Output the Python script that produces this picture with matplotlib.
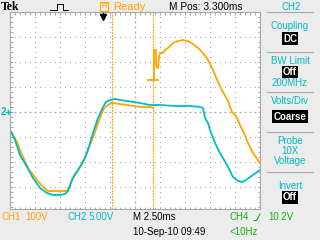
import matplotlib
matplotlib.use('Agg')
import matplotlib.pyplot as plt
from matplotlib.ticker import MultipleLocator, NullLocator
import numpy as np

plt.rcParams['font.family'] = ['Liberation Sans', 'DejaVu Sans']

# time in ms from left edge of screen (2.5 ms/div), amplitude in divisions from CH2 ground
ch2_t = [0.0, 0.5, 1.0, 1.7, 2.3, 3.0, 3.7, 4.3, 5.0, 5.5, 5.8, 6.2, 6.6, 7.0, 7.4, 7.7,
         8.0, 8.3, 8.6, 8.8, 9.0, 9.3, 9.6, 10.0, 10.5, 11.0, 11.7, 13.0, 14.0, 15.0, 16.5,
         18.0, 19.0, 19.3, 19.5, 19.8, 20.0, 20.5, 21.0, 21.7, 22.3, 22.8, 23.2, 23.6, 24.3, 25.0]
ch2_d = [-0.72, -1.12, -1.72, -2.20, -2.64, -3.04, -3.24, -3.32, -3.32, -3.28, -3.16, -2.72,
         -2.44, -2.20, -1.92, -1.64, -1.24, -0.84, -0.48, -0.24, -0.08, 0.20, 0.40, 0.48, 0.52,
         0.48, 0.44, 0.36, 0.28, 0.28, 0.24, 0.24, 0.20, 0.16, -0.24, -0.44, -0.72, -1.24,
         -1.64, -2.12, -2.60, -2.76, -2.80, -2.72, -2.52, -2.32]

ch1_t = [0.0, 0.7, 1.2, 1.8, 2.7, 3.3, 3.8, 4.7, 5.7, 6.0, 6.3, 6.8, 7.3, 7.8, 8.2, 8.5,
         9.0, 9.3, 9.5, 9.8, 10.2, 11.0, 11.7, 13.0, 14.0, 14.3]
ch1_d = [-0.72, -1.20, -1.72, -2.24, -2.72, -3.00, -3.16, -3.16, -3.16, -2.92, -2.60, -2.32,
         -2.00, -1.52, -1.12, -0.80, -0.24, 0.08, 0.20, 0.28, 0.36, 0.32, 0.28, 0.20, 0.20, 0.16]

ch1b_t = [14.4, 14.4, 14.6, 14.6, 14.7, 14.8, 14.9, 15.0, 15.3, 15.5, 15.8, 16.3, 16.8, 17.3,
          17.8, 18.3, 18.8, 19.3, 19.8, 20.3, 20.8, 21.3, 21.8, 22.2, 22.6, 23.0, 23.4, 23.8,
          24.3, 24.8, 25.0]
ch1b_d = [1.28, 2.48, 2.48, 1.92, 1.76, 1.76, 2.20, 2.36, 2.36, 2.48, 2.56, 2.76, 2.84, 2.88,
          2.84, 2.72, 2.56, 2.36, 2.08, 1.68, 1.20, 0.80, 0.44, 0.00, -0.16, -0.52, -0.84,
          -1.24, -1.64, -1.92, -2.04]

glitch_t = [13.8, 14.8]
glitch_d = [1.28, 1.28]
cursor_t = [10.2, 14.3]

ORANGE = '#ffa400'
CYAN = '#00bcc4'
GREEN = '#10b010'
GRID = '#a8a8a8'
BG = '#ececec'

fig = plt.figure(figsize=(3.2, 2.4), dpi=100, facecolor=BG)

# graticule: x 10..260 px, y 12..209 px
ax = fig.add_axes([10 / 320, 31 / 240, 250 / 320, 197 / 240], zorder=1)
ax.set_facecolor('white')
ax.set_xlim(0, 25)
ax.set_ylim(-3.88, 4)
for s in ax.spines.values():
    s.set_color(GRID)
    s.set_linewidth(0.8)
ax.xaxis.set_major_locator(NullLocator())
ax.yaxis.set_major_locator(NullLocator())
ax.xaxis.set_minor_locator(MultipleLocator(0.5))
ax.yaxis.set_minor_locator(MultipleLocator(0.2))
ax.tick_params(which='minor', direction='in', length=1.8, width=0.75, color=GRID,
               top=True, right=True, labelbottom=False, labelleft=False)

# dotted grid
xs = np.arange(0, 25.01, 0.5)
ys = np.arange(-3.8, 4.01, 0.2)
for d in [-3, -2, -1, 1, 2, 3]:
    ax.plot(xs, np.full_like(xs, d), 's', color=GRID, ms=0.75, mew=0)
for t in [2.5, 5, 7.5, 10, 15, 17.5, 20, 22.5]:
    ax.plot(np.full_like(ys, t), ys, 's', color=GRID, ms=0.75, mew=0)
ax.plot(xs, np.zeros_like(xs), '_', color=GRID, ms=1.6, mew=0.9)
ax.plot(np.full_like(ys, 12.5), ys, '|', color=GRID, ms=1.6, mew=0.9)

for t in cursor_t:
    ax.axvline(t, color=ORANGE, lw=0.9, ls=(0, (1.5, 0.8)))

ax.plot(ch1_t, ch1_d, color=ORANGE, lw=1.3)
ax.plot(ch1b_t, ch1b_d, color=ORANGE, lw=1.3)
ax.plot(glitch_t, glitch_d, color=ORANGE, lw=1.3)
ax.plot(ch2_t, ch2_d, color=CYAN, lw=1.3)

# overlay in pixel coordinates for the screen annotations
ov = fig.add_axes([0, 0, 1, 1], zorder=2)
ov.set_xlim(0, 320)
ov.set_ylim(240, 0)
ov.axis('off')
ov.patch.set_alpha(0)


def txt(x, y, s, c='black', ha='left', size=7, **kw):
    ov.text(x, y, s, color=c, ha=ha, va='center', fontsize=size, **kw)


def boxed(x, y, s):
    ov.text(x, y, s, color='white', ha='center', va='center', fontsize=7, fontweight='bold',
            bbox=dict(boxstyle='square,pad=0.12', fc='black', ec='none'))


txt(1, 6.5, 'Tek', size=8.5, family='Liberation Serif', fontweight='bold')
ov.plot([50, 56.5, 56.5, 62.5, 62.5, 68], [9.5, 9.5, 3.5, 3.5, 9.5, 9.5], color='black', lw=0.7)
ov.add_patch(plt.Rectangle((100, 2), 8, 8.5, fill=False, ec=ORANGE, lw=0.8))
txt(104, 6.5, 'R', ORANGE, ha='center', size=6)
txt(113, 6.5, 'Ready', ORANGE, size=8)
txt(206, 6.5, 'M Pos: 3.300ms', ha='center', size=7.3)
txt(291, 6.5, 'CH2', CYAN, ha='center')

# trigger position marker
ov.plot([103, 103], [13, 15], color='black', lw=1)
ov.plot([103], [17], marker='v', color='black', ms=4)

# channel 2 ground marker
txt(0.5, 112, '2', CYAN, fontweight='bold')
ov.plot([6, 10], [112, 112], color=CYAN, lw=1)
ov.plot([7.5, 7.5], [110, 114], color=CYAN, lw=1)

# right-hand menu
for y in [12, 52, 92, 132, 172]:
    ov.plot([267, 313], [y, y], color=GRID, lw=0.8)
txt(290, 26, 'Coupling', CYAN, ha='center')
boxed(290, 38.5, 'DC')
txt(290, 61, 'BW Limit', CYAN, ha='center')
boxed(290, 72, 'Off')
txt(290, 82.5, '200MHz', CYAN, ha='center')
txt(290, 100.5, 'Volts/Div', CYAN, ha='center')
boxed(290, 116.5, 'Coarse')
txt(290, 140.5, 'Probe', CYAN, ha='center')
txt(290, 150.5, '10X', CYAN, ha='center')
txt(290, 160.5, 'Voltage', CYAN, ha='center')
txt(290, 186, 'Invert', CYAN, ha='center')
boxed(290, 197.5, 'Off')

# bottom readout
txt(1, 217, 'CH1', ORANGE)
txt(25, 217, '100V', ORANGE)
txt(67, 217, 'CH2', CYAN)
txt(89, 217, '5.00V', CYAN)
txt(133, 217, 'M 2.50ms')
txt(230, 217, 'CH4', GREEN)
ov.plot([254, 256.5, 260], [220.5, 220.5, 214], color=GREEN, lw=0.8)
txt(268, 217, '10.2V', GREEN)
txt(133, 232, '10-Sep-10 09:49')
txt(230, 232, '<10Hz', GREEN)

fig.savefig('out.png', dpi=100, facecolor=BG)
